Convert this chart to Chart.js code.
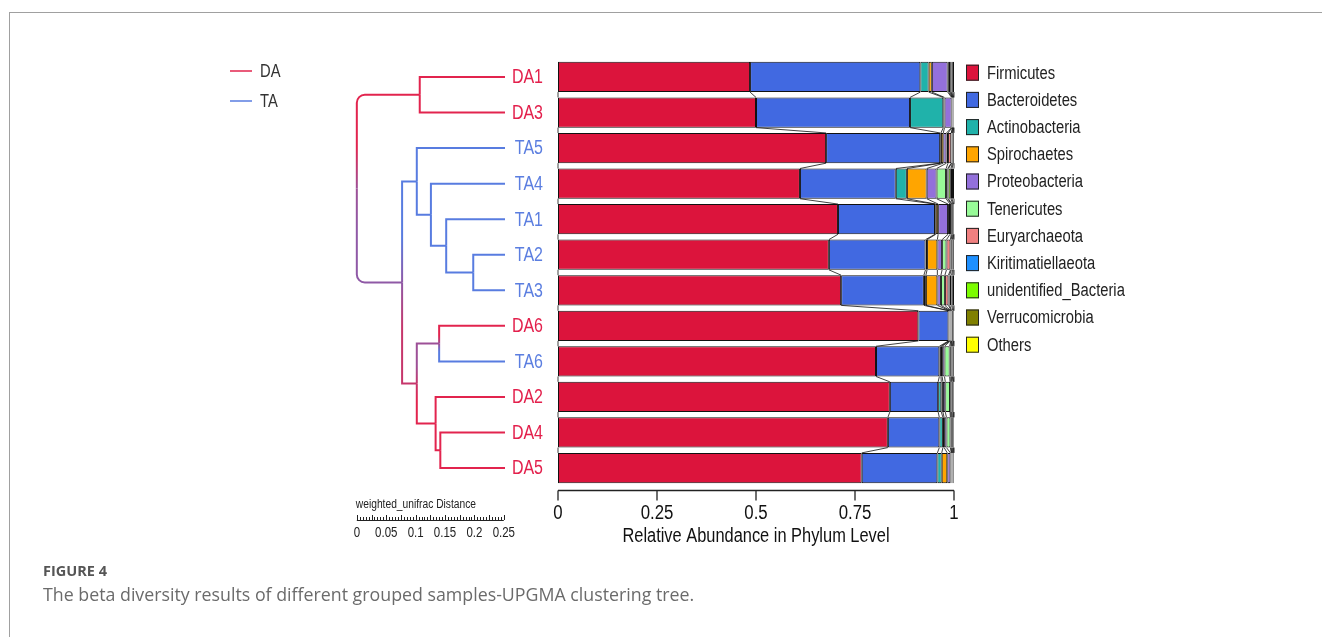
<!DOCTYPE html>
<html>
<head>
<meta charset="utf-8">
<script src="https://cdn.jsdelivr.net/npm/chart.js@4.4.1/dist/chart.umd.min.js"></script>
<style>
  body { margin: 0; background: #fff; width: 1322px; height: 637px; overflow: hidden; position: relative; }
  #frame { position: absolute; left: 9px; top: 12px; right: 0; bottom: 0; border-top: 1px solid #a0a0a0; border-left: 1px solid #a0a0a0; }
  #chart { position: absolute; left: 0; top: 0; }
  .fig { position: absolute; left: 43px; top: 561px; font: 700 14.5px "Open Sans", sans-serif; color: #555; }
  .cap { position: absolute; left: 43px; top: 582px; font: 400 17.8px "Open Sans", sans-serif; color: #6b6b6b; }
</style>
</head>
<body>
<div id="frame"></div>
<canvas id="chart" width="1322" height="637"></canvas>
<div class="fig">FIGURE 4</div>
<div class="cap">The beta diversity results of different grouped samples-UPGMA clustering tree.</div>
<script>
// samples in tree order, top to bottom
const samples = ["DA1", "DA3", "TA5", "TA4", "TA1", "TA2", "TA3", "DA6", "TA6", "DA2", "DA4", "DA5"];
const groups = ["DA", "TA"];

const phyla = ["Firmicutes", "Bacteroidetes", "Actinobacteria", "Spirochaetes", "Proteobacteria",
  "Tenericutes", "Euryarchaeota", "Kiritimatiellaeota", "unidentified_Bacteria", "Verrucomicrobia", "Others"];
const phylumColors = ["#dc143c", "#4169e1", "#20b2aa", "#ffa500", "#9370db",
  "#98fb98", "#f08080", "#1e90ff", "#7cfc00", "#808000", "#ffff00"];

const firmicutes     = [0.485, 0.500, 0.677, 0.611, 0.707, 0.684, 0.715, 0.910, 0.803, 0.838, 0.833, 0.767];
const bacteroidetes  = [0.430, 0.389, 0.288, 0.242, 0.245, 0.244, 0.209, 0.076, 0.160, 0.122, 0.130, 0.191];
const actinobacteria = [0.021, 0.084, 0.002, 0.028, 0.002, 0.004, 0.005, 0.002, 0.004, 0.008, 0.009, 0.011];
const spirochaetes   = [0.008, 0.003, 0.006, 0.050, 0.006, 0.026, 0.029, 0.001, 0.003, 0.004, 0.003, 0.014];
const proteobacteria = [0.040, 0.018, 0.008, 0.025, 0.025, 0.012, 0.009, 0.002, 0.006, 0.006, 0.006, 0.008];
const tenericutes    = [0.003, 0.001, 0.004, 0.024, 0.005, 0.011, 0.010, 0.001, 0.013, 0.012, 0.010, 0.002];
const euryarchaeota  = [0.003, 0.001, 0.008, 0.004, 0.003, 0.010, 0.009, 0.001, 0.003, 0.002, 0.002, 0.001];
const kiritimatiell  = [0.002, 0.001, 0.001, 0.002, 0.002, 0.002, 0.003, 0.001, 0.002, 0.002, 0.002, 0.002];
const unidentified   = [0.002, 0.001, 0.002, 0.006, 0.002, 0.003, 0.005, 0.003, 0.002, 0.003, 0.002, 0.001];
const verrucomicrob  = [0.003, 0.001, 0.002, 0.003, 0.002, 0.002, 0.003, 0.002, 0.002, 0.002, 0.002, 0.002];
const others         = [0.003, 0.001, 0.002, 0.005, 0.001, 0.002, 0.003, 0.001, 0.002, 0.001, 0.001, 0.001];
const abundance = [firmicutes, bacteroidetes, actinobacteria, spirochaetes, proteobacteria,
  tenericutes, euryarchaeota, kiritimatiell, unidentified, verrucomicrob, others];

const tickLabels = ["0", "0.25", "0.5", "0.75", "1"];
const distLabels = ["0", "0.05", "0.1", "0.15", "0.2", "0.25"];
const xTitle = "Relative Abundance in Phylum Level";

// UPGMA merges, "#n" = result of merge n
const mergeLeft   = ["DA1", "TA2", "TA1", "TA4", "TA5", "DA4", "DA2", "DA6", "#7", "#4", "#0"];
const mergeRight  = ["DA3", "TA3", "#1", "#2", "#3", "DA5", "#5", "TA6", "#6", "#8", "#9"];
const mergeHeight = [0.145, 0.054, 0.100, 0.126, 0.150, 0.110, 0.118, 0.112, 0.150, 0.175, 0.252];

const groupRGB = { DA: [226, 36, 78], TA: [88, 124, 224] };
const labelColor = { DA: "#e3204c", TA: "#5b7ee0" };
const groupOf = s => s.slice(0, 2);

function mix(f) {
  const a = groupRGB.DA, b = groupRGB.TA;
  return "rgb(" + a.map((v, i) => Math.round(v * f + b[i] * (1 - f))).join(",") + ")";
}

// condensed text, like the narrow font of the original plot
function narrowText(ctx, text, x, y, size, align, color) {
  ctx.save();
  ctx.font = size + 'px "Liberation Sans", Arimo, Arial, sans-serif';
  ctx.fillStyle = color;
  ctx.textBaseline = "middle";
  ctx.textAlign = align;
  ctx.translate(x, y);
  ctx.scale(0.82, 1);
  ctx.fillText(text, 0, 0);
  ctx.restore();
}

// dendrogram geometry (layout only)
const leafGap = 53;      // px between plot left and leaf tips
const pxPerDist = 588;   // px per unit of weighted unifrac distance

const dendroPlugin = {
  id: "dendro",
  afterDraw(chart) {
    const { ctx, chartArea } = chart;
    const ys = chart.scales.y;
    const leafX = chartArea.left - leafGap;
    const xDist = d => leafX - d * pxPerDist;
    const nodes = [];
    const get = id => id[0] === "#" ? nodes[+id.slice(1)]
      : { x: leafX, y: ys.getPixelForValue(samples.indexOf(id)), f: groupOf(id) === "DA" ? 1 : 0, n: 1 };

    ctx.save();
    ctx.lineWidth = 2;
    mergeHeight.forEach((h, i) => {
      const a = get(mergeLeft[i]), b = get(mergeRight[i]);
      const n = a.n + b.n;
      const node = { x: xDist(h), y: (a.y + b.y) / 2, n, f: (a.f * a.n + b.f * b.n) / n };
      nodes.push(node);
      const r = i === mergeHeight.length - 1 ? 8 : 0;
      [a, b].forEach(c => {
        const g = ctx.createLinearGradient(0, c.y, 0, node.y);
        g.addColorStop(0, mix(c.f));
        g.addColorStop(0.55, mix(c.f));
        g.addColorStop(1, mix(node.f));
        ctx.strokeStyle = g;
        ctx.beginPath();
        ctx.moveTo(c.x, c.y);
        if (r) {
          ctx.lineTo(node.x + r, c.y);
          ctx.arcTo(node.x, c.y, node.x, node.y, r);
        } else {
          ctx.lineTo(node.x, c.y);
        }
        ctx.lineTo(node.x, node.y);
        ctx.stroke();
      });
    });

    // sample labels at the category positions
    samples.forEach((s, i) => {
      narrowText(ctx, s, chartArea.left - 15, ys.getPixelForValue(i) + 1, 19.5, "right", labelColor[groupOf(s)]);
    });

    // group key
    groups.forEach((gname, i) => {
      const y = 71 + i * 30;
      ctx.strokeStyle = mix(gname === "DA" ? 1 : 0);
      ctx.lineWidth = 1.5;
      ctx.beginPath(); ctx.moveTo(230, y); ctx.lineTo(252, y); ctx.stroke();
      narrowText(ctx, gname, 260, y + 1, 18, "left", "#333");
    });

    // distance scale bar
    const x0 = xDist(mergeHeight[mergeHeight.length - 1]);
    const by = 520;
    narrowText(ctx, "weighted_unifrac Distance", x0 - 1, by - 15, 12.5, "left", "#222");
    ctx.strokeStyle = "#222";
    ctx.lineWidth = 1;
    ctx.beginPath(); ctx.moveTo(x0, by + 0.5); ctx.lineTo(x0 + 0.25 * pxPerDist, by + 0.5); ctx.stroke();
    for (let k = 0; k <= 50; k++) {
      const x = Math.round(x0 + k * 0.005 * pxPerDist) + 0.5;
      const len = k % 5 === 0 ? 5 : 3;
      ctx.beginPath(); ctx.moveTo(x, by); ctx.lineTo(x, by - len); ctx.stroke();
    }
    distLabels.forEach(t => narrowText(ctx, t, x0 + parseFloat(t) * pxPerDist, by + 13, 14, "center", "#222"));
    ctx.restore();
  }
};

const flowPlugin = {
  id: "flow",
  afterDatasetsDraw(chart) {
    const { ctx } = chart;
    const xs = chart.scales.x;
    const meta0 = chart.getDatasetMeta(0);
    ctx.save();
    ctx.strokeStyle = "#111";
    ctx.lineWidth = 0.8;
    for (let i = 0; i < samples.length - 1; i++) {
      const b0 = meta0.data[i], b1 = meta0.data[i + 1];
      const yBot = b0.y + b0.height / 2, yTop = b1.y - b1.height / 2;
      let c0 = 0, c1 = 0;
      const bounds = [[0, 0]];
      abundance.forEach(arr => { c0 += arr[i]; c1 += arr[i + 1]; bounds.push([c0, c1]); });
      bounds.forEach(([u, v]) => {
        ctx.beginPath();
        ctx.moveTo(xs.getPixelForValue(u), yBot);
        ctx.lineTo(xs.getPixelForValue(v), yTop);
        ctx.stroke();
      });
    }
    ctx.restore();
  }
};

const axisPlugin = {
  id: "axisLine",
  afterDraw(chart) {
    const { ctx, chartArea } = chart;
    const xs = chart.scales.x;
    const y = Math.round(chartArea.bottom + 4) + 0.5;
    ctx.save();
    ctx.strokeStyle = "#222";
    ctx.lineWidth = 1.3;
    ctx.beginPath();
    ctx.moveTo(xs.getPixelForValue(0), y);
    ctx.lineTo(xs.getPixelForValue(1), y);
    xs.ticks.forEach(t => {
      const x = xs.getPixelForValue(t.value);
      ctx.moveTo(x, y); ctx.lineTo(x, y + 10);
    });
    ctx.stroke();
    xs.ticks.forEach((t, i) => narrowText(ctx, tickLabels[i], xs.getPixelForValue(t.value), y + 23, 20.5, "center", "#111"));
    narrowText(ctx, xTitle, (chartArea.left + chartArea.right) / 2, y + 46, 20, "center", "#111");

    // phylum legend
    const lx = chartArea.right + 12;
    ctx.lineWidth = 1;
    phyla.forEach((p, k) => {
      const ly = 72.7 + k * 27.2;
      ctx.fillStyle = phylumColors[k];
      ctx.fillRect(lx, ly - 8, 13, 16);
      ctx.strokeStyle = "#222";
      ctx.strokeRect(lx + 0.5, ly - 7.5, 12, 15);
      narrowText(ctx, p, lx + 21, ly + 1, 18, "left", "#222");
    });
    ctx.restore();
  }
};

new Chart(document.getElementById("chart"), {
  type: "bar",
  data: {
    labels: samples,
    datasets: phyla.map((p, k) => ({
      label: p,
      data: abundance[k],
      backgroundColor: phylumColors[k],
      borderColor: "#111",
      borderWidth: 1,
      borderSkipped: false,
      barPercentage: 0.85,
      categoryPercentage: 1
    }))
  },
  options: {
    indexAxis: "y",
    responsive: false,
    animation: false,
    layout: { padding: { left: 458, right: 368, top: 59.2, bottom: 90.2 } },
    plugins: { legend: { display: false }, tooltip: { enabled: false } },
    scales: {
      x: {
        type: "linear", stacked: true, min: 0, max: 1,
        grid: { display: false, drawTicks: false },
        border: { display: false },
        ticks: { display: false, stepSize: 0.25 },
        afterFit: s => { s.height = 61; }
      },
      y: {
        stacked: true,
        grid: { display: false, drawTicks: false },
        border: { display: false },
        ticks: { display: false },
        afterFit: s => { s.width = 100; }
      }
    }
  },
  plugins: [flowPlugin, dendroPlugin, axisPlugin]
});
</script>
</body>
</html>
